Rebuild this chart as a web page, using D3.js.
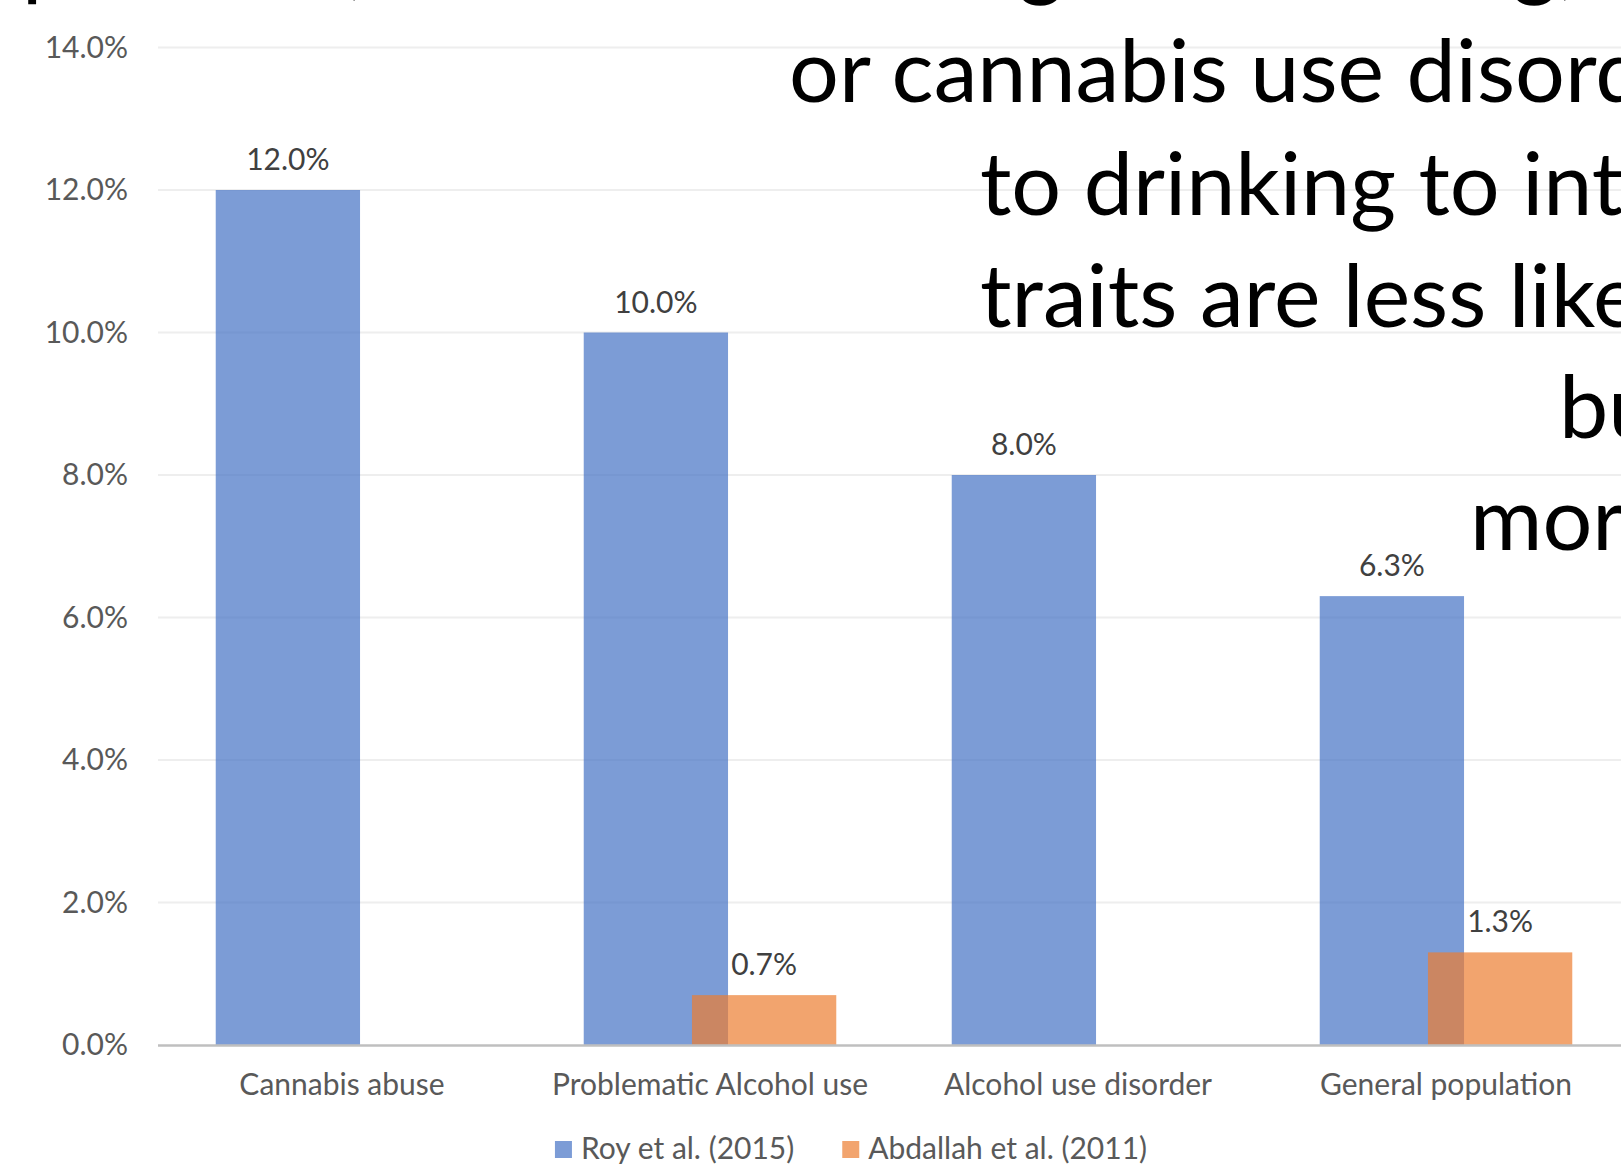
<!DOCTYPE html>
<html><head><meta charset="utf-8">
<script src="https://cdn.jsdelivr.net/npm/d3@7"></script>
<style>html,body{margin:0;padding:0;background:#fff;overflow:hidden}</style>
</head><body><svg id="c" width="1621" height="1170"></svg>
<script>
const categories = ["Cannabis abuse", "Problematic Alcohol use", "Alcohol use disorder", "General population"];
const seriesNames = ["Roy et al. (2015)", "Abdallah et al. (2011)"];
const royValues = [12.0, 10.0, 8.0, 6.3];
const abdallahValues = [null, 0.7, null, 1.3];
const yTicks = [0, 2, 4, 6, 8, 10, 12, 14];
const overlayLines = ["or cannabis use disorder", "to drinking to intoxication", "traits are less likely", "but", "more"];
const hiddenLineGlyphs = ["p", ",", "g", "g,"];

const W = 1621, H = 1170;
const svg = d3.select("#c");
const FONT = "Lato, 'Open Sans', sans-serif";
const SMALL = 30;
const plot = {left: 158, right: 1630, top: 47.5, bottom: 1045};

const x = d3.scaleBand().domain(categories).range([plot.left, plot.right]).paddingInner(0).paddingOuter(0);
const y = d3.scaleLinear().domain([0, 14]).range([plot.bottom, plot.top]);
// Excel-like clustering: gap width 80%, overlap 25%
const barW = x.bandwidth() / 2.55;
const offs = [0.4 * barW, 1.15 * barW];
const colors = ["#4472C4", "#ED7D31"];

// gridlines
svg.append("g").selectAll("line").data(yTicks.filter(d => d > 0)).join("line")
  .attr("x1", plot.left).attr("x2", plot.right)
  .attr("y1", d => y(d)).attr("y2", d => y(d))
  .attr("stroke", "#eeeeee").attr("stroke-width", 2);

// y axis labels
const yAxis = d3.axisLeft(y).tickValues(yTicks).tickSize(0).tickPadding(30)
  .tickFormat(d => d.toFixed(1) + "%");
const gy = svg.append("g").attr("transform", `translate(${plot.left},0)`).call(yAxis);
gy.select(".domain").remove();
gy.selectAll("text").attr("font-family", FONT).attr("font-size", SMALL).attr("fill", "#595959");

// bars
const series = [royValues, abdallahValues];
series.forEach((vals, si) => {
  const data = categories.map((c, i) => ({c, v: vals[i]})).filter(d => d.v != null);
  svg.append("g").selectAll("rect").data(data).join("rect")
    .attr("x", d => x(d.c) + offs[si])
    .attr("width", barW)
    .attr("y", d => y(d.v))
    .attr("height", d => y(0) - y(d.v))
    .attr("fill", colors[si]).attr("fill-opacity", 0.7);
  svg.append("g").selectAll("text").data(data).join("text")
    .attr("x", d => x(d.c) + offs[si] + barW / 2)
    .attr("y", d => y(d.v) - 20)
    .attr("text-anchor", "middle")
    .attr("font-family", FONT).attr("font-size", SMALL).attr("fill", "#404040")
    .text(d => d.v.toFixed(1) + "%");
});

// x axis baseline
svg.append("line").attr("x1", plot.left).attr("x2", plot.right)
  .attr("y1", y(0) + 0.5).attr("y2", y(0) + 0.5)
  .attr("stroke", "#bfbfbf").attr("stroke-width", 2.5);

// category labels
const xAxis = d3.axisBottom(x).tickSize(0).tickPadding(0);
const gx = svg.append("g").attr("transform", `translate(0,${plot.bottom})`).call(xAxis);
gx.select(".domain").remove();
gx.selectAll("text").attr("font-family", FONT).attr("font-size", SMALL).attr("fill", "#595959")
  .attr("dy", null).attr("y", 50);

// legend
const lg = svg.append("g");
let cx = 0;
seriesNames.forEach((n, i) => {
  const g = lg.append("g").attr("transform", `translate(${cx},0)`);
  g.append("rect").attr("x", 0).attr("y", -18).attr("width", 17).attr("height", 17)
    .attr("fill", colors[i]).attr("fill-opacity", 0.7);
  const t = g.append("text").attr("x", 26).attr("y", 0)
    .attr("font-family", FONT).attr("font-size", SMALL).attr("fill", "#595959").text(n);
  const w = 26 + t.node().getComputedTextLength();
  cx += w + 48;
});
const legW = cx - 48;
lg.attr("transform", `translate(${851 - legW / 2},1159)`);

// overlaid slide text
const big = svg.append("g").attr("font-family", FONT).attr("font-size", 88).attr("fill", "#000");
const lineX = [789, 980, 980, 1559, 1470];
const lineY = [102, 215, 327, 438, 550];
big.selectAll("text.l").data(overlayLines).join("text").attr("class", "l")
  .attr("x", (d, i) => lineX[i]).attr("y", (d, i) => lineY[i]).text(d => d);
const glyphX = [22, 347, 1018, 1512];
big.selectAll("text.h").data(hiddenLineGlyphs).join("text").attr("class", "h")
  .attr("x", (d, i) => glyphX[i]).attr("y", -11).text(d => d);
</script></body></html>
